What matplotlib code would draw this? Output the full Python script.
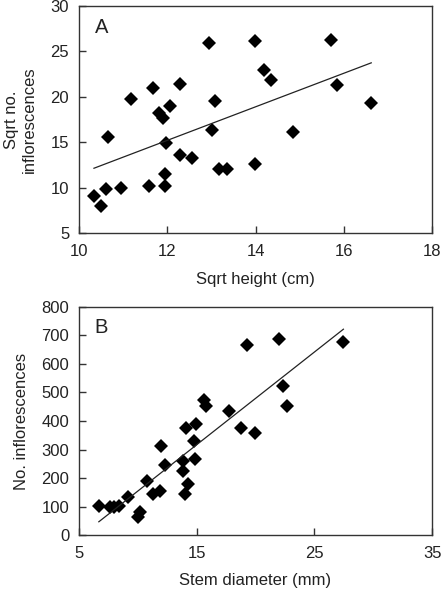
import numpy as np
import matplotlib.pyplot as plt

plt.rcParams['font.family'] = ['Liberation Sans', 'DejaVu Sans']

# Panel A: sqrt height (cm) vs sqrt no. inflorescences
sqrt_height = [10.34, 10.49, 10.61, 10.65, 10.96, 11.19, 11.58, 11.68, 11.82, 11.90,
               11.94, 11.94, 11.97, 12.06, 12.28, 12.28, 12.57, 12.94, 13.02, 13.08,
               13.17, 13.36, 13.99, 13.99, 14.18, 14.35, 14.85, 15.70, 15.85, 16.62]
sqrt_inflor = [9.07, 7.96, 9.81, 15.6, 10.0, 19.7, 10.19, 21.0, 18.26, 17.67,
               10.19, 11.48, 14.93, 19.0, 21.37, 13.63, 13.26, 25.9, 16.37, 19.5,
               12.0, 12.0, 26.1, 12.6, 22.96, 21.85, 16.07, 26.3, 21.33, 19.33]

# Panel B: stem diameter (mm) vs no. inflorescences
stem_diam = [6.69, 7.67, 7.95, 8.40, 9.19, 10.03, 10.2, 10.74, 11.30, 11.86,
             12.0, 12.28, 13.80, 13.80, 13.97, 14.08, 14.22, 14.78, 14.87, 14.92,
             15.60, 15.77, 17.71, 18.80, 19.28, 19.96, 21.98, 22.32, 22.71, 27.46]
n_inflor = [103, 97, 97, 103, 132, 62, 82, 191, 145, 156,
            313, 244, 261, 225, 144, 377, 179, 331, 266, 388,
            475, 451, 434, 377, 665, 359, 688, 521, 451, 677]

fig = plt.figure(figsize=(4.46, 5.90), dpi=100)
axA = fig.add_axes([0.177, 0.605, 0.792, 0.385])
axB = fig.add_axes([0.177, 0.093, 0.792, 0.387])

FS = 12


def style(ax):
    for s in ax.spines.values():
        s.set_color('#333333')
        s.set_linewidth(1.0)
    ax.tick_params(direction='in', length=5, width=1, color='#333333',
                   labelsize=FS, labelcolor='#222222')
    ax.tick_params(axis='y', pad=7)
    ax.tick_params(axis='x', pad=8)


def panel(ax, x, y):
    x = np.asarray(x)
    y = np.asarray(y)
    ax.plot(x, y, 'D', color='black', ms=7, mew=0)
    # least-squares line over the range of the data
    b, a = np.polyfit(x, y, 1)
    xs = np.array([x.min(), x.max()])
    ax.plot(xs, a + b * xs, color='#222222', lw=0.9)


panel(axA, sqrt_height, sqrt_inflor)
axA.set_xlim(10, 18)
axA.set_ylim(5, 30)
axA.set_xticks([10, 12, 14, 16, 18])
axA.set_yticks([5, 10, 15, 20, 25, 30])
axA.set_xlabel('Sqrt height (cm)', fontsize=FS, labelpad=9.5, color='#222222')
axA.set_ylabel('Sqrt no.\ninflorescences', fontsize=FS, labelpad=10,
               color='#222222', linespacing=1.25)
axA.text(0.045, 0.945, 'A', transform=axA.transAxes, fontsize=14.5, va='top',
         color='#222222')
style(axA)

panel(axB, stem_diam, n_inflor)
axB.set_xlim(5, 35)
axB.set_ylim(0, 800)
axB.set_xticks([5, 15, 25, 35])
axB.set_yticks(range(0, 801, 100))
axB.set_xlabel('Stem diameter (mm)', fontsize=FS, labelpad=8.5, color='#222222')
axB.set_ylabel('No. inflorescences', fontsize=FS, labelpad=9, color='#222222')
axB.text(0.045, 0.95, 'B', transform=axB.transAxes, fontsize=14.5, va='top',
         color='#222222')
style(axB)

fig.savefig('out.png', dpi=100)
